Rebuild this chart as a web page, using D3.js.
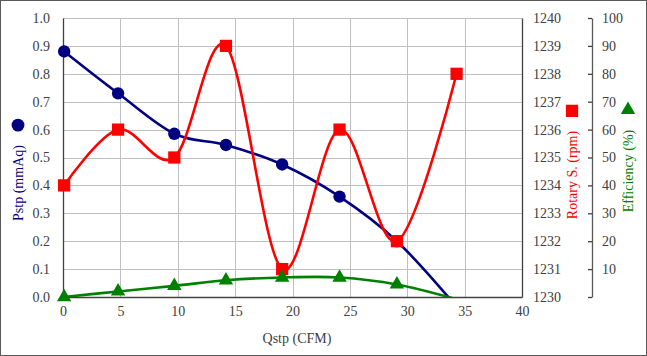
<!DOCTYPE html>
<html><head><meta charset="utf-8">
<script src="https://cdn.jsdelivr.net/npm/d3@7"></script>
<style>body{margin:0;background:#fff}svg{display:block}</style>
</head><body>
<svg id="c" width="647" height="356"></svg>
<script>
const qstp = [0.1, 4.8, 9.7, 14.2, 19.1, 24.1, 29.1, 34.3];
const pstp = [0.88, 0.73, 0.585, 0.545, 0.475, 0.36, 0.20, -0.035];
const rotary = [1234, 1236, 1235, 1239, 1231, 1236, 1232, 1238];
const efficiency = [0, 2, 4, 6, 7, 7, 4.5, -0.8];
const xTicks = [0, 5, 10, 15, 20, 25, 30, 35, 40];
const pTicks = [0, 0.1, 0.2, 0.3, 0.4, 0.5, 0.6, 0.7, 0.8, 0.9, 1.0];
const rTicks = [1230, 1231, 1232, 1233, 1234, 1235, 1236, 1237, 1238, 1239, 1240];
const eTicks = [0, 10, 20, 30, 40, 50, 60, 70, 80, 90, 100];

const svg = d3.select("#c");
const L = 63, R = 522, T = 18, B = 297;
const font = "Liberation Serif, Times New Roman, serif";
const x = d3.scaleLinear().domain([0, 40]).range([L, R]);
const yP = d3.scaleLinear().domain([0, 1]).range([B, T]);
const yR = d3.scaleLinear().domain([1230, 1240]).range([B, T]);
const yE = d3.scaleLinear().domain([0, 100]).range([B, T]);

svg.append("rect").attr("x", 0.5).attr("y", 0.5).attr("width", 646).attr("height", 355)
  .attr("fill", "#fff").attr("stroke", "#595959");

// grid
const g = svg.append("g");
g.selectAll("line.h").data(pTicks.slice(1)).join("line")
  .attr("x1", L).attr("x2", R).attr("y1", d => Math.round(yP(d)) + 0.5).attr("y2", d => Math.round(yP(d)) + 0.5)
  .attr("stroke", "#c0c0c0");
g.selectAll("line.v").data(xTicks.slice(1, -1)).join("line")
  .attr("y1", T).attr("y2", B).attr("x1", d => Math.round(x(d)) + 0.5).attr("x2", d => Math.round(x(d)) + 0.5)
  .attr("stroke", "#c0c0c0");

// axes
const axL = svg.append("g").attr("transform", `translate(${L},0)`)
  .call(d3.axisLeft(yP).tickValues(pTicks).tickFormat(d3.format(".1f")).tickSize(0).tickPadding(13));
const axB = svg.append("g").attr("transform", `translate(0,${B})`)
  .call(d3.axisBottom(x).tickValues(xTicks).tickSize(0).tickPadding(9));
const axR = svg.append("g").attr("transform", `translate(${R},0)`)
  .call(d3.axisRight(yR).tickValues(rTicks).tickFormat(d3.format("d")).tickSize(0).tickPadding(11));
const axE = svg.append("g").attr("transform", `translate(592,0)`)
  .call(d3.axisRight(yE).tickValues(eTicks).tickFormat(d => d === 0 ? "" : d).tickSizeInner(-4).tickSizeOuter(0).tickPadding(10));
[axL, axB, axR, axE].forEach(a => {
  a.selectAll("text").attr("font-family", font).attr("font-size", 14).attr("fill", "#404040");
  a.selectAll("path.domain").attr("stroke", "#404040").attr("stroke-width", 1.3);
  a.selectAll(".tick line").attr("stroke", "#404040").attr("stroke-width", 1.3);
});
axE.selectAll("path.domain").attr("stroke", "#595959");

// clip
svg.append("clipPath").attr("id", "pc").append("rect").attr("x", L).attr("y", T).attr("width", R - L).attr("height", B - T);

const curve = d3.curveCardinal.tension(0);
function series(vals, ys, color, sym, size) {
  const pts = qstp.map((q, i) => [q, vals[i]]);
  svg.append("path").attr("clip-path", "url(#pc)")
    .attr("d", d3.line().x(d => x(d[0])).y(d => ys(d[1])).curve(curve)(pts))
    .attr("fill", "none").attr("stroke", color).attr("stroke-width", 2.6);
  const [lo, hi] = ys.domain();
  svg.append("g").selectAll("path").data(pts.filter(d => d[1] >= lo && d[1] <= hi)).join("path")
    .attr("transform", d => `translate(${x(d[0])},${ys(d[1])})`)
    .attr("d", d3.symbol().type(sym).size(size)).attr("fill", color);
}
series(pstp, yP, "#000080", d3.symbolCircle, 120);
series(rotary, yR, "#ff0000", d3.symbolSquare, 150);
series(efficiency, yE, "#008000", d3.symbolTriangle, 90);

// titles
svg.append("text").attr("x", 297).attr("y", 343).attr("text-anchor", "middle")
  .attr("font-family", font).attr("font-size", 14).attr("fill", "#404040").text("Qstp (CFM)");
function vtitle(cx, cy, txt, color, sym, size) {
  const gg = svg.append("g").attr("transform", `translate(${cx},${cy}) rotate(-90)`);
  const t = gg.append("text").attr("x", 0).attr("y", 5).attr("text-anchor", "middle")
    .attr("font-family", font).attr("font-size", 14).attr("fill", color).text(txt);
  const w = t.node().getComputedTextLength();
  gg.append("path").attr("transform", `translate(${w / 2 + 11},0) rotate(90)`)
    .attr("d", d3.symbol().type(sym).size(size)).attr("fill", color);
  t.attr("x", -9);
}
vtitle(18, 174, "Pstp (mmAq)", "#000080", d3.symbolCircle, 130);
vtitle(572, 166, "Rotary S. (rpm)", "#ff0000", d3.symbolSquare, 150);
vtitle(628, 162, "Efficiency (%)", "#008000", d3.symbolTriangle, 90);
</script>
</body></html>
